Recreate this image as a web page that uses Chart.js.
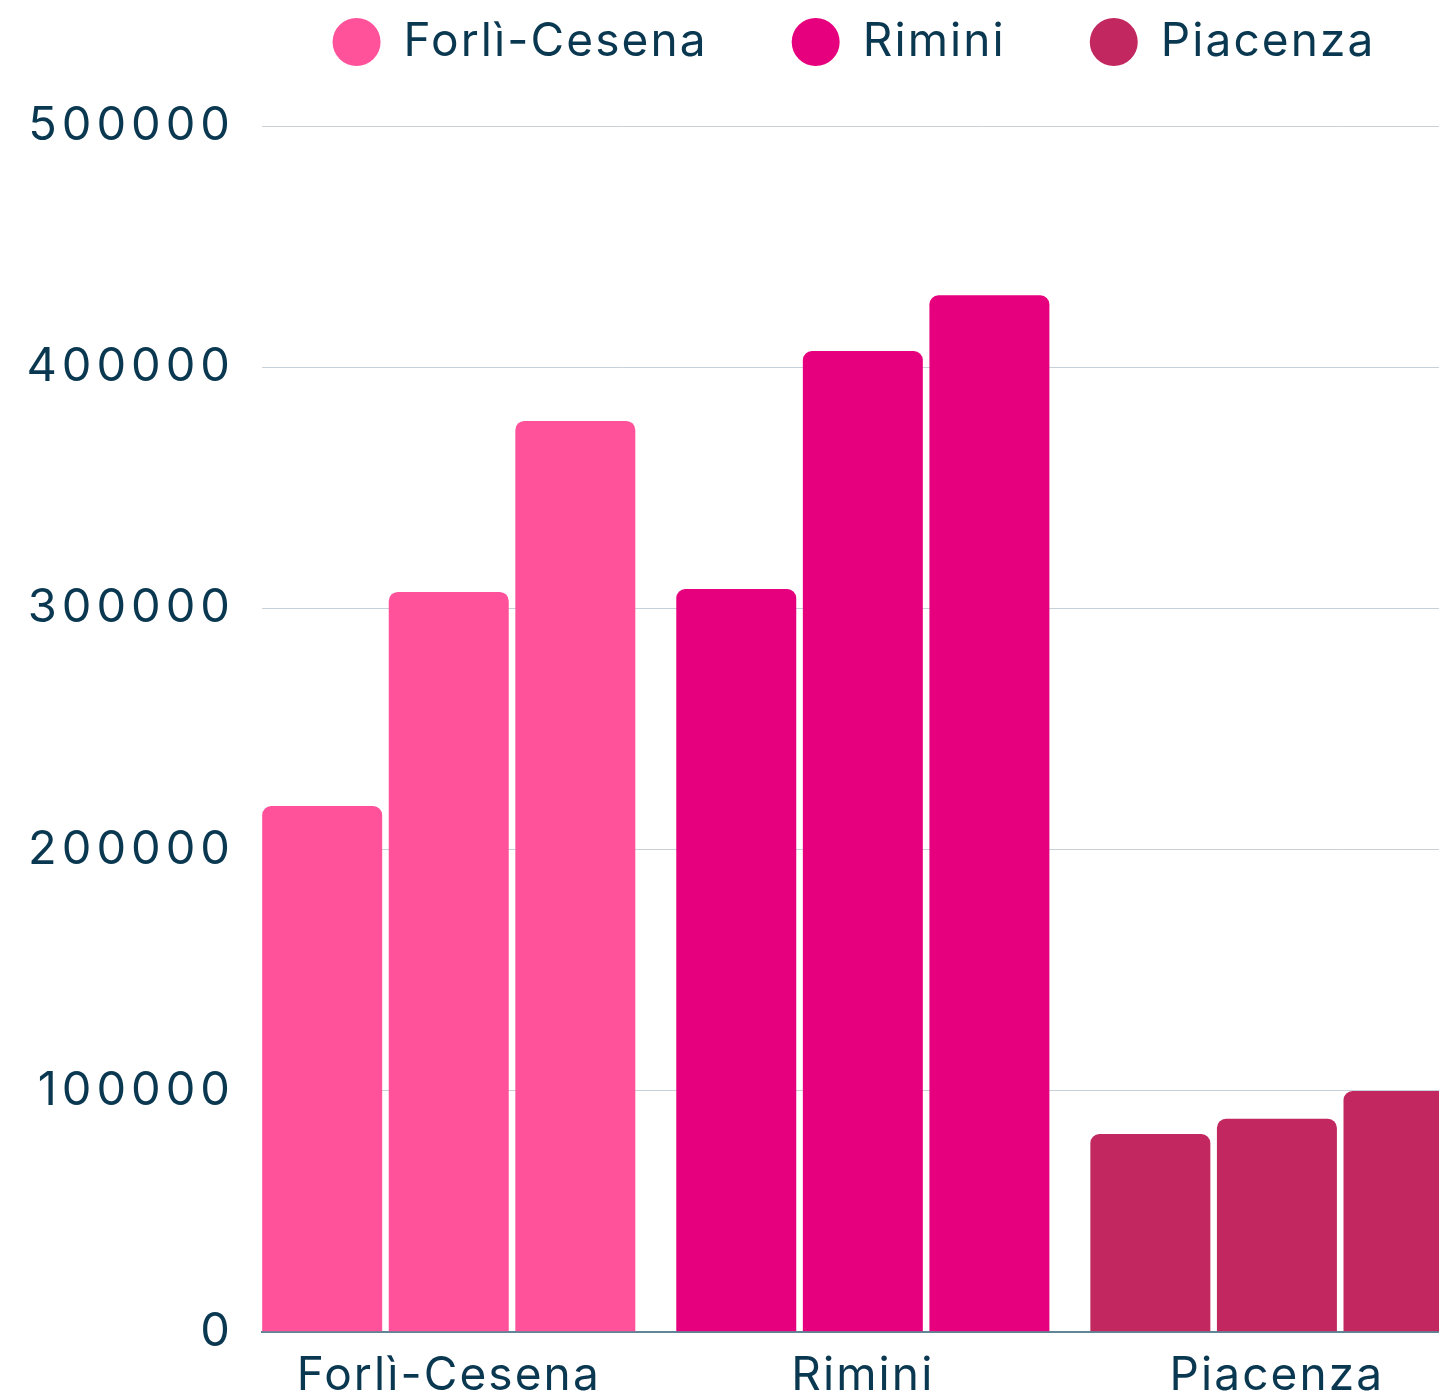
<!DOCTYPE html>
<html lang="it">
<head>
<meta charset="utf-8">
<title>Forlì-Cesena, Rimini, Piacenza</title>
<script src="https://cdn.jsdelivr.net/npm/chart.js@4.4.1/dist/chart.umd.min.js"></script>
<style>
  html, body { margin: 0; padding: 0; background: #ffffff; overflow: hidden; }
  #wrap { position: relative; width: 1708px; height: 1421px; }
</style>
</head>
<body>
<div id="wrap"><canvas id="chart"></canvas></div>
<script>
// Province shown, one colour each
const cities = ['Forlì-Cesena', 'Rimini', 'Piacenza'];
const cityColors = ['#ff529b', '#e6007e', '#c2285f'];

// Three bars per province
const seriesNames = ['Serie 1', 'Serie 2', 'Serie 3'];
const series1 = [218000, 308000, 82000];
const series2 = [306800, 406700, 88300];
const series3 = [377700, 429800, 99800];

// Value axis
const yMin = 0;
const yMax = 500000;
const yStep = 100000;

const TEXT = '#0a3851';
const FAMILY = 'Inter, Lato, sans-serif';
const FONT = { family: FAMILY, size: 46 };
const Y_FONT = { family: FAMILY, size: 47 };
const LABEL_SPACING = '2.1px';
const DIGIT_SPACING = '5px';

const allSeries = [series1, series2, series3];

const datasets = allSeries.map((values, s) => ({
  label: seriesNames[s],
  data: values.map((v, i) => ({ x: i, y: v })),
  backgroundColor: cityColors,
  borderWidth: 0,
  borderRadius: 9,
  borderSkipped: 'start',
  categoryPercentage: 0.917,
  barPercentage: 0.948
}));

// Extra space under the legend row
const legendGap = {
  id: 'legendGap',
  beforeLayout(chart) {
    const lg = chart.legend;
    if (lg && !lg.$gap) {
      const fit = lg.fit;
      lg.fit = function () {
        fit.apply(this, arguments);
        this.height += 51;
      };
      lg.$gap = true;
    }
  }
};

// Wider tracking for the text, a bit more for the value labels
const textSpacing = {
  id: 'textSpacing',
  beforeLayout(chart) { chart.ctx.letterSpacing = LABEL_SPACING; },
  beforeDraw(chart) { chart.ctx.letterSpacing = LABEL_SPACING; },
  afterLayout(chart) {
    const y = chart.scales.y;
    if (y && !y.$spaced) {
      const drawLabels = y.drawLabels;
      y.drawLabels = function (area) {
        const ctx = this.ctx;
        const prev = ctx.letterSpacing;
        ctx.letterSpacing = DIGIT_SPACING;
        drawLabels.call(this, area);
        ctx.letterSpacing = prev;
      };
      y.$spaced = true;
    }
  }
};

new Chart(document.getElementById('chart'), {
  type: 'bar',
  data: { datasets },
  plugins: [legendGap, textSpacing],
  options: {
    responsive: true,
    maintainAspectRatio: false,
    animation: false,
    layout: { padding: { top: -65, left: 0, right: 0, bottom: 0 } },
    plugins: {
      tooltip: { enabled: false },
      legend: {
        position: 'top',
        align: 'center',
        onClick: null,
        labels: {
          usePointStyle: true,
          pointStyle: 'circle',
          boxHeight: 34,
          pointStyleWidth: 48,
          padding: 84,
          color: TEXT,
          font: FONT,
          generateLabels: () => cities.map((c, i) => ({
            text: c,
            fillStyle: cityColors[i],
            strokeStyle: cityColors[i],
            lineWidth: 0,
            pointStyle: 'circle',
            fontColor: TEXT,
            hidden: false,
            index: i
          }))
        }
      }
    },
    scales: {
      x: {
        type: 'linear',
        min: -0.451,
        max: 3.03,
        offset: false,
        grid: { display: false, drawTicks: false },
        border: { display: true, color: '#5f8596', width: 2 },
        ticks: {
          stepSize: 1,
          includeBounds: false,
          autoSkip: false,
          maxRotation: 0,
          padding: 17,
          color: TEXT,
          font: FONT,
          callback: (v) => (Number.isInteger(v) && cities[v] !== undefined) ? cities[v] : ''
        }
      },
      y: {
        min: yMin,
        max: yMax,
        grid: { color: '#c6d1da', lineWidth: 1, drawTicks: false },
        border: { display: false },
        ticks: {
          stepSize: yStep,
          padding: 27,
          color: TEXT,
          font: Y_FONT,
          callback: (v) => String(v)
        },
        afterFit(scale) { scale.width = 262; }
      }
    }
  }
});
</script>
</body>
</html>
